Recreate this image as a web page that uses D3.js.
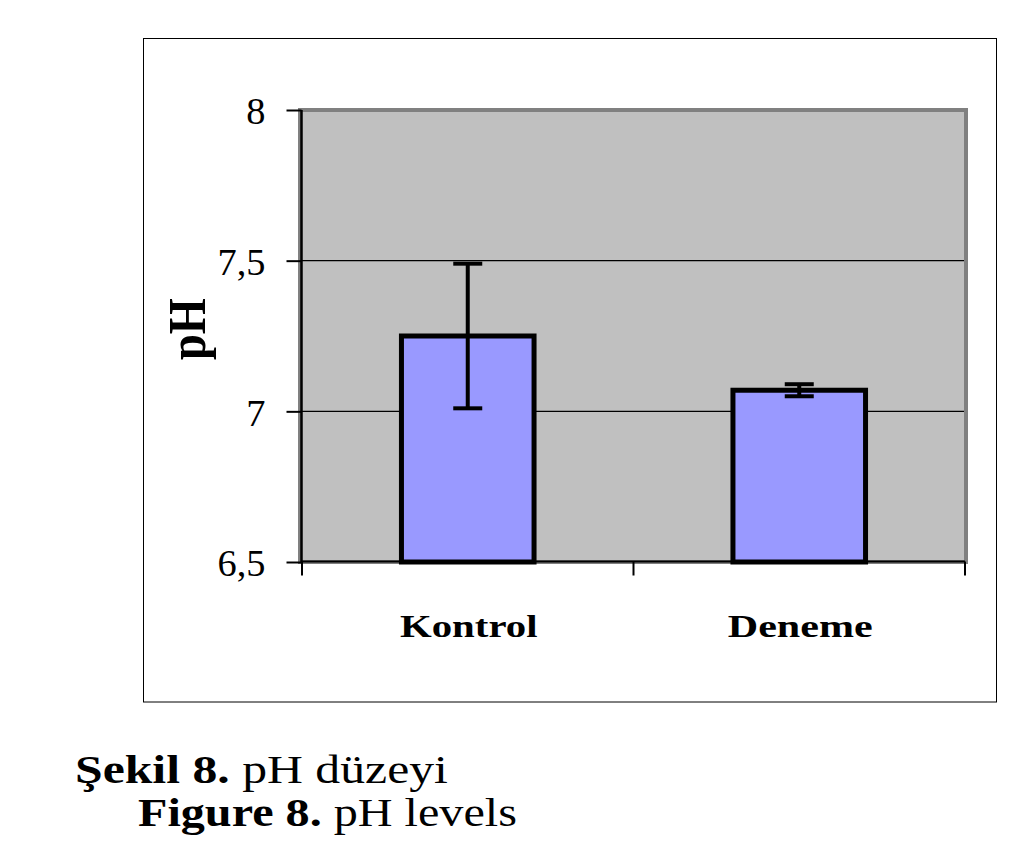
<!DOCTYPE html>
<html><head><meta charset="utf-8">
<script src="https://cdn.jsdelivr.net/npm/d3@7"></script>
<style>html,body{margin:0;padding:0;background:#fff;}svg{display:block;}
text{font-family:"Liberation Serif","Times New Roman",Tinos,"Nimbus Roman",serif;}</style>
</head><body>
<svg id="c" width="1036" height="868"></svg>
<script>
const categories = ["Kontrol", "Deneme"];
const means = [7.25, 7.07];
const errors = [0.24, 0.02];
const yTicks = [6.5, 7, 7.5, 8];
const yTickLabels = ["6,5", "7", "7,5", "8"];
const yLabel = "pH";
const captionTr = ["Şekil 8.", " pH düzeyi"];
const captionEn = ["Figure 8.", " pH levels"];

const svg = d3.select("#c");

// outer frame
svg.append("rect").attr("x",143.5).attr("y",38.5).attr("width",853).attr("height",663.5)
  .attr("fill","none").attr("stroke","#000").attr("stroke-width",1);

const x = d3.scaleBand().domain(categories).range([302,965]).paddingInner(0.6).paddingOuter(0.3);
const y = d3.scaleLinear().domain([6.5,8]).range([562,110]);

// plot area
svg.append("rect").attr("x",300).attr("y",110).attr("width",666).attr("height",452)
  .attr("fill","#C0C0C0").attr("stroke","#808080").attr("stroke-width",4);

// gridlines
svg.append("g").selectAll("line").data(yTicks.filter(v=>v>6.5 && v<8)).join("line")
  .attr("x1",302).attr("x2",964).attr("y1",d=>y(d)).attr("y2",d=>y(d))
  .attr("stroke","#000").attr("stroke-width",1.2);

// bars
svg.append("g").selectAll("rect").data(categories).join("rect")
  .attr("x",d=>x(d)).attr("width",x.bandwidth())
  .attr("y",(d,i)=>y(means[i])).attr("height",(d,i)=>y(6.5)-y(means[i]))
  .attr("fill","#9999FF").attr("stroke","#000").attr("stroke-width",5);

// error bars
const eg = svg.append("g").attr("stroke","#000").attr("stroke-width",4);
categories.forEach((c,i)=>{
  const cx = x(c)+x.bandwidth()/2;
  const hi = y(means[i]+errors[i]), lo = y(means[i]-errors[i]);
  eg.append("line").attr("x1",cx).attr("x2",cx).attr("y1",hi).attr("y2",lo);
  eg.append("line").attr("x1",cx-14.5).attr("x2",cx+14.5).attr("y1",hi).attr("y2",hi);
  eg.append("line").attr("x1",cx-14.5).attr("x2",cx+14.5).attr("y1",lo).attr("y2",lo);
});

// y axis
const yAxis = d3.axisLeft(y).tickValues(yTicks).tickSize(15).tickPadding(21)
  .tickFormat((d,i)=>yTickLabels[i]);
const ya = svg.append("g").attr("transform","translate(301.5,0)").call(yAxis);
ya.attr("font-family",null);
ya.select(".domain").attr("stroke","#000").attr("stroke-width",2.5).attr("d","M0,110V562");
ya.selectAll(".tick line").attr("stroke","#000").attr("stroke-width",2);
const tt = ya.selectAll(".tick text").attr("font-size",38).attr("fill","#000").attr("dy","0.36em");
{
  let w = 0;
  tt.each(function(){ w = Math.max(w, this.getBBox().width); });
  const s = 48 / w;
  tt.each(function(){
    const t = d3.select(this);
    const ax = +t.attr("x");
    t.attr("transform",`translate(${ax},0) scale(${s},1) translate(${-ax},0)`);
  });
}

// x axis
const xa = svg.append("g").attr("transform","translate(0,561.5)");
xa.append("line").attr("x1",302).attr("x2",965).attr("y1",0).attr("y2",0).attr("stroke","#000").attr("stroke-width",2);
xa.selectAll("line.t").data([302, (x(categories[0])+x.bandwidth()+x(categories[1]))/2, 965]).join("line")
  .attr("class","t").attr("x1",d=>d).attr("x2",d=>d).attr("y1",0).attr("y2",14).attr("stroke","#000").attr("stroke-width",2);

function fit(t, w){
  const bb = t.node().getBBox();
  const ax = +t.attr("x");
  const s = w/bb.width;
  t.attr("transform",`translate(${ax},0) scale(${s},1) translate(${-ax},0)`);
}
const catTargets = [138, 145];
categories.forEach((c,i)=>{
  const t = svg.append("text").attr("x",x(c)+x.bandwidth()/2+1).attr("y",637)
    .attr("text-anchor","middle").attr("font-weight","bold")
    .attr("font-size",31).text(c);
  fit(t, catTargets[i]);
});

// y label
const yl = svg.append("text").attr("x",0).attr("y",0)
  .attr("text-anchor","middle").attr("font-weight","bold")
  .attr("font-size",46).text(yLabel);
{
  const bb = yl.node().getBBox();
  const sx = 62/bb.width;
  yl.attr("transform",`translate(205,329) rotate(-90) scale(${sx},1.15)`);
}

// captions
function caption(parts, xx, yy, w){
  const t = svg.append("text").attr("x",xx).attr("y",yy).attr("font-size",41);
  t.append("tspan").attr("font-weight","bold").text(parts[0]);
  t.append("tspan").text(parts[1]);
  fit(t, w);
}
caption(captionTr, 75, 783, 373);
caption(captionEn, 138, 826, 379);
</script>
</body></html>
